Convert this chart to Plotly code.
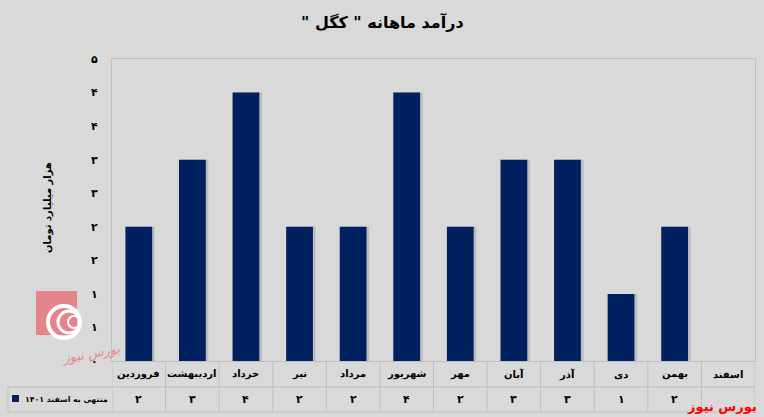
import plotly.graph_objects as go

# ---- data ----
months = ["فروردین", "اردیبهشت", "خرداد", "تیر", "مرداد", "شهریور",
          "مهر", "آبان", "آذر", "دی", "بهمن", "اسفند"]
values = [2, 3, 4, 2, 2, 4, 2, 3, 3, 1, 2, None]
value_labels = ["۲", "۳", "۴", "۲", "۲", "۴", "۲", "۳", "۳", "۱", "۲", ""]
y_tickvals = [0, 0.5, 1, 1.5, 2, 2.5, 3, 3.5, 4, 4.5]
y_ticktext = ["۰", "۱", "۱", "۲", "۲", "۳", "۳", "۴", "۴", "۵"]
series_name = "منتهی به اسفند ۱۴۰۱"
title_text = "درآمد ماهانه \" کگل \""
y_title = "هزار میلیارد تومان"
source_text = "بورس نیوز"

RLM = "\u200f"
W, H = 764, 417
L, R, T, B = 112, 9, 59, 56
PW, PH = W - L - R, H - T - B

def px_to_py(p):   # pixel y -> paper y
    return (H - B - p) / PH

def px_to_px(p):   # pixel x -> paper x
    return (p - L) / PW

NAVY = "#002060"
GRID = "#BFBFBF"
FONT = "DejaVu Sans"

fig = go.Figure()
x_idx = list(range(len(months)))
# soft drop shadow
fig.add_trace(go.Bar(
    x=x_idx, y=values, width=0.5, offset=-0.25 + 0.05,
    marker=dict(color="rgba(0,0,0,0.13)", line=dict(width=0)),
    hoverinfo="skip", showlegend=False,
))
fig.add_trace(go.Bar(
    x=x_idx, y=values, width=0.5, offset=-0.25,
    marker=dict(color=NAVY, line=dict(width=0)),
    name=series_name, showlegend=False,
))

shapes = []
annotations = []

def ann(**kw):
    kw.setdefault("showarrow", False)
    kw.setdefault("yanchor", "middle")
    kw.setdefault("xref", "paper")
    kw.setdefault("yref", "paper")
    annotations.append(kw)

# table horizontal lines
for yp, x0 in [(387, 8), (412, 8)]:
    shapes.append(dict(type="line", xref="paper", yref="paper",
                       x0=px_to_px(x0), x1=1, y0=px_to_py(yp), y1=px_to_py(yp),
                       line=dict(color=GRID, width=1)))
# table vertical lines
n = len(months)
for i in range(n + 1):
    shapes.append(dict(type="line", xref="x", yref="paper",
                       x0=i - 0.5, x1=i - 0.5, y0=0, y1=px_to_py(412),
                       line=dict(color=GRID, width=1)))
shapes.append(dict(type="line", xref="paper", yref="paper",
                   x0=px_to_px(8), x1=px_to_px(8), y0=px_to_py(387), y1=px_to_py(412),
                   line=dict(color=GRID, width=1)))

# table text
for i, m in enumerate(months):
    ann(x=i, xref="x", y=px_to_py(374), text="<b>" + m + "</b>",
        font=dict(family=FONT, size=10, color="black"))
    if value_labels[i]:
        ann(x=i, xref="x", y=px_to_py(400), text="<b>" + value_labels[i] + "</b>",
            font=dict(family=FONT, size=11, color="black"))

# legend key
shapes.append(dict(type="rect", xref="paper", yref="paper",
                   x0=px_to_px(12), x1=px_to_px(19), y0=px_to_py(402), y1=px_to_py(395),
                   fillcolor=NAVY, line=dict(width=0)))
ann(x=px_to_px(110), y=px_to_py(400), xanchor="right",
    text="<b>" + RLM + series_name + RLM + "</b>",
    font=dict(family=FONT, size=7.8, color="black"))

# title
ann(x=px_to_px(382), y=px_to_py(22), text="<b>" + RLM + title_text + RLM + "</b>",
    font=dict(family=FONT, size=16, color="black"))

# y-axis title
ann(x=px_to_px(40), y=px_to_py(208), text="<b>" + y_title + "</b>", textangle=-90,
    font=dict(family=FONT, size=10, color="black"))

# source text
ann(x=px_to_px(759), y=px_to_py(406), xanchor="right", text="<b>" + source_text + "</b>",
    font=dict(family=FONT, size=13, color="#FF0000"))

# watermark logo (approximation)
shapes.append(dict(type="rect", xref="paper", yref="paper",
                   x0=px_to_px(36), x1=px_to_px(77), y0=px_to_py(335), y1=px_to_py(291),
                   fillcolor="#E3868C", line=dict(width=0)))
for r_, w_ in [(16, 4), (11, 3), (6, 2)]:
    cx, cy = 80, 322
    shapes.append(dict(type="circle", xref="paper", yref="paper",
                       x0=px_to_px(cx - 2 * r_), x1=px_to_px(cx),
                       y0=px_to_py(cy + r_), y1=px_to_py(cy - r_),
                       line=dict(color="white", width=w_), fillcolor="rgba(0,0,0,0)"))
ann(x=px_to_px(58), y=px_to_py(354), text="<i>" + source_text + "</i>", textangle=-10,
    font=dict(family=FONT, size=13, color="#E3868C"))

fig.update_layout(
    width=W, height=H,
    margin=dict(l=L, r=R, t=T, b=B),
    paper_bgcolor="#D9D9D9", plot_bgcolor="#D9D9D9",
    shapes=shapes, annotations=annotations,
    barmode="overlay", showlegend=False,
    xaxis=dict(range=[-0.5, n - 0.5], showticklabels=False, showgrid=False,
               zeroline=False, showline=True, linecolor=GRID, mirror=True, ticks=""),
    yaxis=dict(range=[0, 4.5], tickvals=y_tickvals, ticktext=["<b>" + t + "</b>" for t in y_ticktext],
               showgrid=False, zeroline=False, showline=True, linecolor=GRID, mirror=True,
               ticks="", ticklabelstandoff=11,
               tickfont=dict(family=FONT, size=11, color="black")),
)

fig.write_html("out.html", config={"displayModeBar": False},
               post_script="document.body.style.margin='0';document.body.style.overflow='hidden';document.body.style.background='#D9D9D9';")
